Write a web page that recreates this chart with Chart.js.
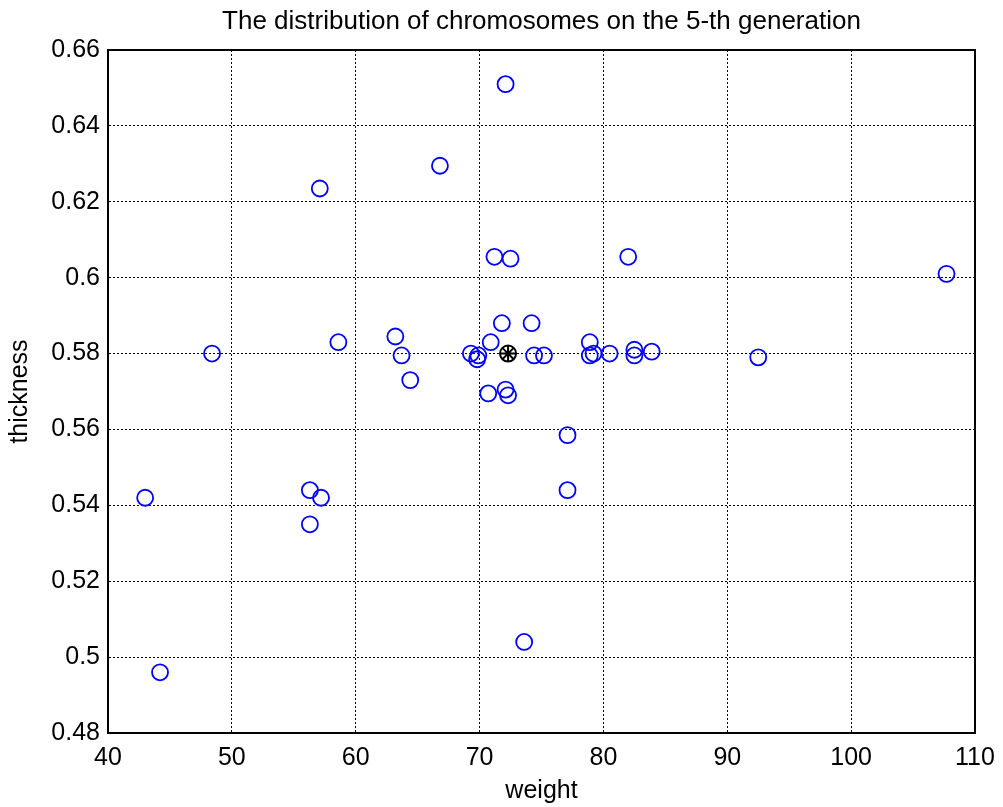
<!DOCTYPE html>
<html>
<head>
<meta charset="utf-8">
<script src="https://cdn.jsdelivr.net/npm/chart.js@4"></script>
<style>
  html, body { margin: 0; padding: 0; background: #fff; }
  #wrap { width: 1003px; height: 807px; }
</style>
</head>
<body>
<div id="wrap"><canvas id="scatterChart" width="1003" height="807"></canvas></div>
<script>
// chromosome weights / thicknesses
const weights = [43.0, 44.2, 48.4, 56.3, 56.3, 57.2, 57.1, 58.6, 63.2, 63.7, 64.4, 66.8,
    69.3, 69.8, 69.9, 70.7, 70.9, 71.2, 71.8, 72.1, 72.1, 72.3, 72.5, 73.6,
    74.2, 74.4, 75.2, 77.1, 77.1, 78.9, 78.9, 79.2, 80.5, 82.0, 82.5, 82.5,
    83.9, 92.5, 107.7];
const thicknesses = [0.542, 0.496, 0.580, 0.544, 0.535, 0.542, 0.6235, 0.583, 0.5845, 0.5795, 0.573, 0.6295,
    0.580, 0.5785, 0.5795, 0.5695, 0.583, 0.6055, 0.588, 0.651, 0.5705, 0.569, 0.605, 0.504,
    0.588, 0.5795, 0.5795, 0.5585, 0.544, 0.583, 0.5795, 0.580, 0.580, 0.6055, 0.581, 0.5795,
    0.5805, 0.579, 0.601];
const bestWeight = [72.3];
const bestThickness = [0.580];
const xTicks = [40, 50, 60, 70, 80, 90, 100, 110];
const yTicks = ['0.48', '0.5', '0.52', '0.54', '0.56', '0.58', '0.6', '0.62', '0.64', '0.66'];

const toPoints = (xs, ys) => xs.map((x, i) => ({ x: x, y: ys[i] }));

const font = 'Arial, "Liberation Sans", sans-serif';

const scatterConfig = {
    type: 'scatter',
    data: {
        datasets: [
            {
                label: 'best',
                data: toPoints(bestWeight, bestThickness),
                pointStyle: 'star',
                pointRadius: 8,
                borderColor: '#000000',
                backgroundColor: 'transparent',
                pointBorderWidth: 2
            },
            {
                label: 'best ring',
                data: toPoints(bestWeight, bestThickness),
                pointStyle: 'circle',
                pointRadius: 8,
                borderColor: '#000000',
                backgroundColor: 'transparent',
                pointBorderWidth: 2
            },
            {
                label: 'chromosomes',
                data: toPoints(weights, thicknesses),
                pointStyle: 'circle',
                pointRadius: 8,
                borderColor: '#0000ff',
                backgroundColor: 'transparent',
                pointBorderWidth: 1.8
            }
        ]
    },
    options: {
        responsive: false,
        animation: false,
        layout: { padding: { left: 0, right: 28, top: 0, bottom: 0 } },
        plugins: {
            legend: { display: false },
            tooltip: { enabled: false },
            title: {
                display: true,
                fullSize: false,
                text: 'The distribution of chromosomes on the 5-th generation',
                color: '#000',
                font: { family: font, size: 26, weight: 'normal', lineHeight: 1.2 },
                padding: { top: 6, bottom: 12.8 }
            }
        },
        scales: {
            x: {
                type: 'linear',
                min: 40,
                max: 110,
                afterBuildTicks: s => { s.ticks = xTicks.map(v => ({ value: v })); },
                afterFit: s => { s.height = 74; s.paddingLeft = 0; s.paddingRight = 0; },
                ticks: {
                    color: '#000',
                    font: { family: font, size: 25, lineHeight: 1.2 },
                    padding: 10,
                    maxRotation: 0,
                    callback: v => String(v)
                },
                grid: {
                    color: '#000',
                    lineWidth: 1,
                    drawTicks: false
                },
                border: { display: true, color: '#000', width: 2, dash: [2, 2] },
                title: {
                    display: true,
                    text: 'weight',
                    color: '#000',
                    font: { family: font, size: 25, lineHeight: 1.2 },
                    padding: { top: 0, bottom: 1 }
                }
            },
            y: {
                type: 'linear',
                min: 0.48,
                max: 0.66,
                afterBuildTicks: s => { s.ticks = yTicks.map(v => ({ value: parseFloat(v) })); },
                afterFit: s => { s.width = 108; },
                ticks: {
                    color: '#000',
                    font: { family: font, size: 25, lineHeight: 1.2 },
                    padding: 8,
                    callback: (v, i) => yTicks[i]
                },
                grid: {
                    color: '#000',
                    lineWidth: 1,
                    drawTicks: false
                },
                border: { display: true, color: '#000', width: 2, dash: [2, 2] },
                title: {
                    display: true,
                    text: 'thickness',
                    color: '#000',
                    font: { family: font, size: 25, lineHeight: 1.2 },
                    padding: { top: 5, bottom: 0 }
                }
            }
        }
    },
    plugins: [{
        id: 'frame',
        beforeDatasetsDraw(chart) {
            const { ctx, chartArea: a } = chart;
            ctx.save();
            ctx.strokeStyle = '#000';
            ctx.lineWidth = 2;
            ctx.setLineDash([]);
            ctx.strokeRect(a.left, a.top, a.right - a.left, a.bottom - a.top);
            ctx.restore();
        }
    }]
};

const scatterChart = new Chart(document.getElementById('scatterChart'), scatterConfig);
</script>
</body>
</html>
